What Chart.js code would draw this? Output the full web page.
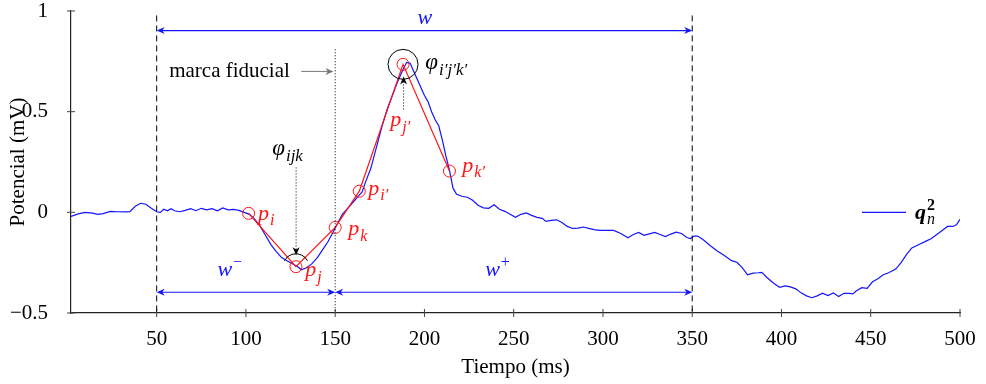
<!DOCTYPE html>
<html>
<head>
<meta charset="utf-8">
<script src="https://cdn.jsdelivr.net/npm/chart.js@4.4.1/dist/chart.umd.min.js"></script>
<style>
  body { margin: 0; background: #fff; }
  canvas { display: block; }
</style>
</head>
<body>
<canvas id="chart" width="986" height="384"></canvas>
<script>
// señal q_n^2 (ms, mV)
const tiempo = [2, 6, 10, 14, 17, 20, 24, 28, 33, 35, 38, 41, 44, 47, 50, 52, 54, 56, 58, 60, 63, 66, 69, 72, 75, 78, 81, 84, 87, 90, 93, 96, 99,
    102, 105, 108, 111, 114, 117, 120, 123, 126, 129, 131, 134, 137, 140, 143, 146, 149, 151, 154, 157, 160, 163, 165, 167, 170, 173, 176,
    179, 182, 185, 188, 190, 192, 194, 196, 198, 200, 202, 204, 206, 208, 210, 212, 214, 216, 218, 221, 224, 227, 230, 233, 236, 239, 242,
    245, 248, 251, 254, 257, 260, 263, 266, 268, 271, 274, 277, 280, 283, 286, 289, 292, 295, 298, 302, 306, 310, 314, 317, 320, 323, 326,
    329, 332, 335, 338, 341, 344, 347, 349, 351, 353, 356, 360, 364, 368, 372, 375, 378, 381, 384, 387, 389, 392, 396, 399, 402, 405, 408,
    411, 414, 417, 420, 423, 426, 429, 432, 435, 438, 440, 442, 445, 448, 451, 454, 457, 460, 464, 467, 470, 473, 477, 481, 484, 487, 490,
    493, 496, 498, 500];
const potencial = [-0.02, -0.008, 0.0, -0.004, -0.01, -0.006, 0.005, 0.003, 0.002, 0.003, 0.03, 0.045, 0.04, 0.02, 0.003, 0.0, 0.015, 0.008,
    0.018, 0.008, 0.003, 0.01, 0.018, 0.008, 0.02, 0.012, 0.018, 0.008, 0.022, 0.012, 0.015, 0.01, 0.0,
    -0.01, -0.035, -0.07, -0.115, -0.16, -0.195, -0.225, -0.24, -0.255, -0.27, -0.285, -0.275, -0.255, -0.225, -0.185, -0.145, -0.095,
    -0.06, -0.01, 0.02, 0.05, 0.08, 0.1, 0.15, 0.22, 0.32, 0.42,
    0.51, 0.58, 0.65, 0.71, 0.745, 0.74, 0.7, 0.66, 0.62, 0.58, 0.55, 0.5, 0.46, 0.43, 0.36, 0.28, 0.21, 0.12, 0.09, 0.08, 0.075, 0.06,
    0.035, 0.022, 0.02, 0.038, 0.015,
    0.005, -0.01, -0.025, -0.01, -0.003, -0.015, -0.025, -0.03, -0.045, -0.04, -0.037, -0.05, -0.07, -0.08, -0.078, -0.073, -0.08, -0.086,
    -0.09, -0.09, -0.09, -0.105, -0.126, -0.11, -0.1, -0.114, -0.107,
    -0.1, -0.11, -0.12, -0.108, -0.098, -0.105, -0.125, -0.13, -0.118, -0.118, -0.135, -0.165, -0.192, -0.215, -0.24, -0.248, -0.275,
    -0.31, -0.302, -0.3, -0.298, -0.325, -0.355, -0.372, -0.365, -0.37, -0.38,
    -0.4, -0.415, -0.424, -0.415, -0.402, -0.413, -0.4, -0.418, -0.402, -0.403, -0.405, -0.39, -0.374, -0.378, -0.345, -0.33, -0.31, -0.3,
    -0.282, -0.25, -0.21, -0.177, -0.16, -0.143, -0.13, -0.11, -0.09,
    -0.07, -0.07, -0.062, -0.035];

// puntos p_i, p_j, p_k, p_i', p_j', p_k'
const puntosX = [101.5, 128, 150, 163.5, 188, 214];
const puntosY = [-0.005, -0.27, -0.075, 0.105, 0.735, 0.205];
const puntosSub = ['i', 'j', 'k', 'i′', 'j′', 'k′'];

const ticksX = [50, 100, 150, 200, 250, 300, 350, 400, 450, 500];
const ticksY = [-0.5, 0, 0.5, 1];

const SERIF = '"Liberation Serif", "DejaVu Serif", serif';
const AZUL = 'rgb(20,20,255)';
const ROJO = 'rgb(255,20,20)';
const FS = 21;

// texto matemático: base en cursiva con subíndice / superíndice
const mathText = (ctx, x, yc, base, sub, sup, opt = {}) => {
    const size = opt.size || 21;
    const base_y = yc + size * 0.3;
    ctx.save();
    ctx.fillStyle = opt.color || '#000';
    ctx.textAlign = 'left';
    ctx.textBaseline = 'alphabetic';
    ctx.font = `${opt.bold ? 'bold ' : ''}italic ${size}px ${SERIF}`;
    ctx.fillText(base, x, base_y);
    const w = ctx.measureText(base).width;
    const small = Math.round(size * 0.72);
    ctx.font = `${opt.bold ? 'bold ' : ''}${opt.upright ? '' : 'italic '}${small}px ${SERIF}`;
    if (sup) ctx.fillText(sup, x + w + 1, base_y - size * 0.42);
    if (sub) { ctx.font = `italic ${small}px ${SERIF}`; ctx.fillText(sub, x + w + 1, base_y + size * 0.25); }
    ctx.restore();
};

const arrowHead = (ctx, x, y, ang, color) => {
    const L = 8, H = 3.5;
    ctx.save();
    ctx.translate(x, y);
    ctx.rotate(ang);
    ctx.fillStyle = color;
    ctx.beginPath();
    ctx.moveTo(0, 0);
    ctx.lineTo(-L, -H);
    ctx.lineTo(-L * 0.7, 0);
    ctx.lineTo(-L, H);
    ctx.closePath();
    ctx.fill();
    ctx.restore();
};

const line = (ctx, x1, y1, x2, y2, color, width, dash) => {
    ctx.save();
    ctx.strokeStyle = color;
    ctx.lineWidth = width;
    ctx.setLineDash(dash || []);
    ctx.beginPath();
    ctx.moveTo(x1, y1);
    ctx.lineTo(x2, y2);
    ctx.stroke();
    ctx.restore();
};

const anotaciones = {
    id: 'anotaciones',
    afterDatasetsDraw(chart) {
        const ctx = chart.ctx;
        const xs = chart.scales.x, ys = chart.scales.y;
        const X = v => xs.getPixelForValue(v);
        const Y = v => ys.getPixelForValue(v);
        const bottom = Y(-0.5);

        // marcas de los ejes
        ticksX.forEach(t => line(ctx, X(t), bottom - 4, X(t), bottom + 4, '#444', 1));
        ticksY.forEach(t => line(ctx, X(2) - 4, Y(t), X(2) + 4, Y(t), '#444', 1));

        // líneas verticales
        line(ctx, X(50), Y(0.978), X(50), bottom, '#000', 1, [6, 4]);
        line(ctx, X(350), Y(0.978), X(350), bottom, '#000', 1, [6, 4]);
        line(ctx, X(150), Y(0.81), X(150), bottom, '#000', 1, [1, 2]);

        // ventanas w, w-, w+
        const flecha2 = (a, b, yv) => {
            line(ctx, X(a) + 2, Y(yv), X(b) - 2, Y(yv), AZUL, 1.2);
            arrowHead(ctx, X(a), Y(yv), Math.PI, AZUL);
            arrowHead(ctx, X(b), Y(yv), 0, AZUL);
        };
        flecha2(50, 350, 0.903);
        flecha2(50, 150, -0.397);
        flecha2(150, 350, -0.397);
        mathText(ctx, X(200) - 7, Y(0.97), 'w', null, null, {color: AZUL, size: 22});
        mathText(ctx, X(84), Y(-0.283), 'w', null, '−', {color: AZUL, size: 22, upright: true});
        mathText(ctx, X(234), Y(-0.283), 'w', null, '+', {color: AZUL, size: 22, upright: true});

        // marca fiducial
        ctx.save();
        ctx.fillStyle = '#000';
        ctx.font = `${FS}px ${SERIF}`;
        ctx.textBaseline = 'middle';
        ctx.textAlign = 'left';
        ctx.fillText('marca fiducial', X(57), Y(0.7));
        ctx.restore();
        line(ctx, X(131), Y(0.7), X(147), Y(0.7), '#777', 1);
        arrowHead(ctx, X(149), Y(0.7), 0, '#777');

        // ángulo phi_ijk
        mathText(ctx, X(114.7), Y(0.32), 'φ', 'ijk', null, {size: 23});
        line(ctx, X(128.1), Y(0.223), X(128.1), Y(-0.2), '#000', 1, [1, 2]);
        arrowHead(ctx, X(128.1), Y(-0.213), Math.PI / 2, '#000');
        ctx.save();
        ctx.strokeStyle = '#000';
        ctx.lineWidth = 1;
        ctx.beginPath();
        ctx.arc(X(128), Y(-0.27), 13, Math.PI * 1.15, Math.PI * 1.85);
        ctx.stroke();

        // ángulo phi_i'j'k'
        ctx.beginPath();
        ctx.arc(X(188), Y(0.735), 15, 0, Math.PI * 2);
        ctx.stroke();
        ctx.restore();
        mathText(ctx, X(200.5), Y(0.744), 'φ', 'i′j′k′', null, {size: 23});
        line(ctx, X(188.3), Y(0.511), X(188.3), Y(0.66), '#000', 1, [1, 2]);
        arrowHead(ctx, X(188.3), Y(0.675), -Math.PI / 2, '#000');

        // etiquetas de los puntos
        const etiq = [[106.8, -0.005], [133.2, -0.285], [157.3, -0.08], [168.5, 0.12], [180.9, 0.46], [221.2, 0.235]];
        etiq.forEach(([ex, ey], i) => mathText(ctx, X(ex), Y(ey), 'p', puntosSub[i], null, {color: ROJO, size: 22}));

        // leyenda
        const ly = Y(0);
        line(ctx, 862, ly, 906, ly, AZUL, 1.2);
        mathText(ctx, 915, ly, 'q', 'n', '2', {size: 22, bold: true, upright: true});
    }
};

const senal = tiempo.map((t, i) => ({x: t, y: potencial[i]}));
const puntos = puntosX.map((t, i) => ({x: t, y: puntosY[i]}));

new Chart(document.getElementById('chart').getContext('2d'), {
    type: 'line',
    data: {
        datasets: [
            {
                label: 'puntos',
                data: puntos,
                borderColor: ROJO,
                backgroundColor: 'rgba(0,0,0,0)',
                borderWidth: 1.2,
                pointRadius: 6,
                pointBorderWidth: 1,
                pointBorderColor: ROJO,
                pointBackgroundColor: 'rgba(0,0,0,0)',
                tension: 0,
                fill: false
            },
            {
                label: 'q_n^2',
                data: senal,
                borderColor: AZUL,
                borderWidth: 1.2,
                pointRadius: 0,
                tension: 0,
                fill: false
            }
        ]
    },
    options: {
        responsive: false,
        animation: false,
        devicePixelRatio: 1,
        layout: {padding: {top: 11, right: 26, left: 0, bottom: 0}},
        plugins: {legend: {display: false}, tooltip: {enabled: false}},
        scales: {
            x: {
                type: 'linear',
                min: 2,
                max: 500,
                afterBuildTicks: s => { s.ticks = ticksX.map(v => ({value: v})); },
                afterFit: s => { s.height = 71; s.paddingLeft = 0; s.paddingRight = 0; },
                grid: {display: false},
                border: {display: true, color: '#222', width: 1.2},
                ticks: {color: '#000', padding: 6, maxRotation: 0, font: {family: SERIF, size: FS}},
                title: {display: true, text: 'Tiempo (ms)', color: '#000', font: {family: SERIF, size: FS}, padding: {top: 0, bottom: 4}}
            },
            y: {
                min: -0.5,
                max: 1,
                afterBuildTicks: s => { s.ticks = ticksY.map(v => ({value: v})); },
                afterFit: s => { s.width = 71; s.paddingTop = 0; s.paddingBottom = 0; },
                grid: {display: false},
                border: {display: true, color: '#222', width: 1.2},
                ticks: {
                    color: '#000', padding: 15, font: {family: SERIF, size: FS},
                    callback: v => String(v).replace('-', '−')
                },
                title: {display: true, text: 'Potencial (mV)', color: '#000', font: {family: SERIF, size: FS}, padding: {top: 6, bottom: 0}}
            }
        }
    },
    plugins: [anotaciones]
});
</script>
</body>
</html>
